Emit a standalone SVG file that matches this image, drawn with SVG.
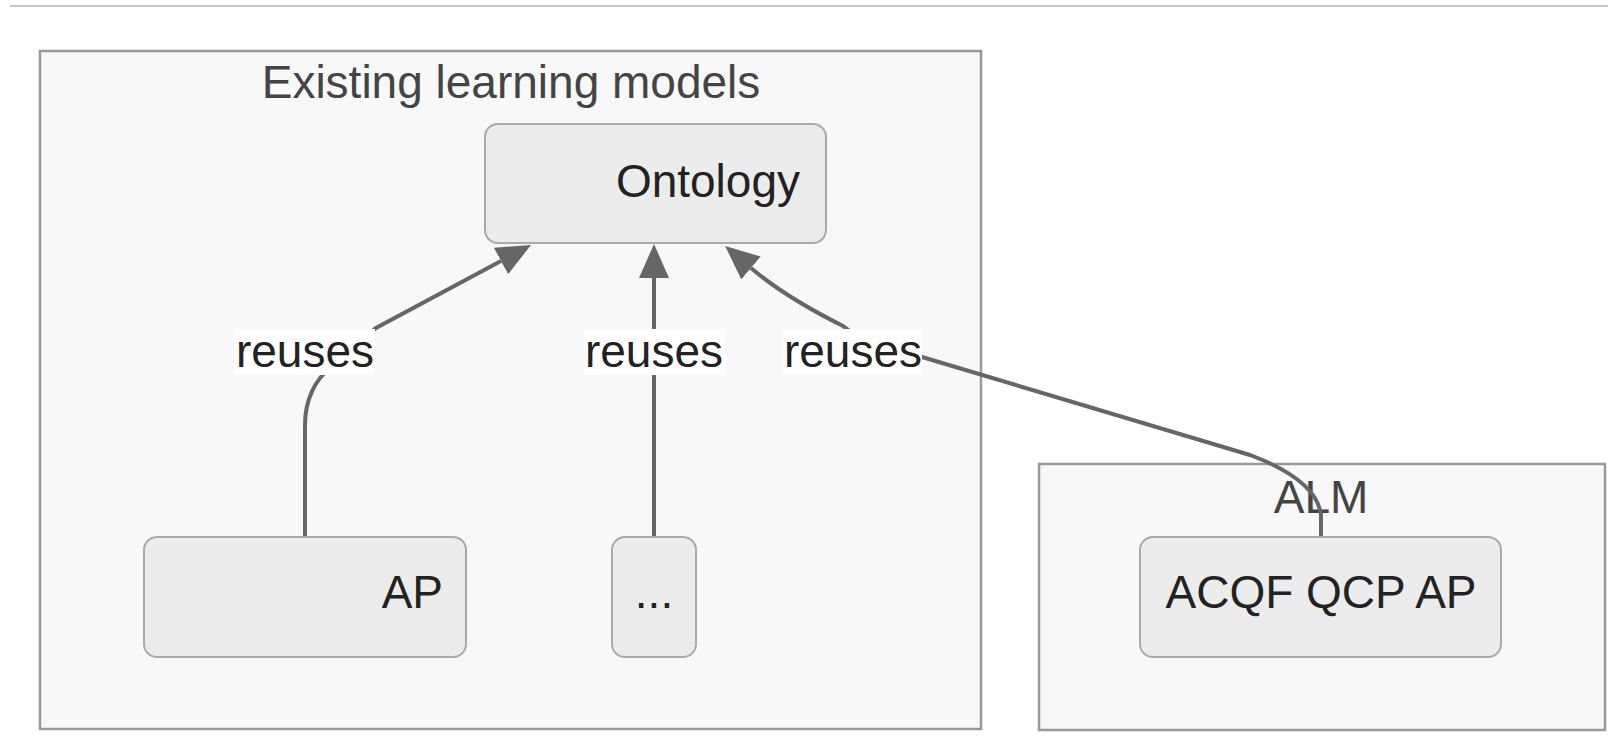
<svg xmlns="http://www.w3.org/2000/svg" width="1608" height="755" viewBox="0 0 1608 755">
<style>
  .cluster { fill: #f8f8f8; stroke: #999; stroke-width: 2.5; }
  .node rect { fill: #ececec; stroke: #aaa; stroke-width: 2; }
  .title { font-family: "Liberation Sans", Arial, sans-serif; font-size: 46px; fill: #444; text-anchor: middle; }
  .ntext { font-family: "Liberation Sans", Arial, sans-serif; font-size: 46px; fill: #222; }
  .edge { fill: none; stroke: #666; stroke-width: 4; }
  .lbg { fill: #ffffff; }
  .ltext { font-family: "Liberation Sans", Arial, sans-serif; font-size: 46px; fill: #222; text-anchor: middle; }
</style>
<defs>
  <marker id="arrow" viewBox="0 0 34 30" refX="0" refY="15" markerWidth="34" markerHeight="30" markerUnits="userSpaceOnUse" orient="auto">
    <path d="M0,0 L34,15 L0,30 z" fill="#666"/>
  </marker>
</defs>
<rect x="0" y="0" width="1608" height="755" fill="#ffffff"/>
<line x1="10" y1="6" x2="1608" y2="6" stroke="#c8c8c8" stroke-width="2"/>

<g id="cluster-existing">
  <rect class="cluster" x="40" y="51" width="941" height="678"/>
  <text class="title" x="511" y="98">Existing learning models</text>
</g>
<g id="cluster-alm">
  <rect class="cluster" x="1039" y="464" width="566" height="266"/>
  <text class="title" x="1321" y="513">ALM</text>
</g>

<g id="connectors">
  <path class="edge" d="M305,537 L305,425 C305,400 315,380 330,368 L376,328 L501,261" marker-end="url(#arrow)"/>
  <path class="edge" d="M654,537 L654,278" marker-end="url(#arrow)"/>
  <path class="edge" d="M1321,537 L1321,515 C1318,490 1290,470 1250,455 L922,357 C880,345 860,340 843,326 Q785,297 751,268" marker-end="url(#arrow)"/>
</g>

<g id="node-ontology" class="node">
  <rect x="485" y="124" width="341" height="119" rx="13"/>
  <text class="ntext" x="800" y="197" text-anchor="end">Ontology</text>
</g>
<g id="node-ap" class="node">
  <rect x="144" y="537" width="322" height="120" rx="13"/>
  <text class="ntext" x="443" y="608" text-anchor="end">AP</text>
</g>
<g id="node-etc" class="node">
  <rect x="612" y="537" width="84" height="120" rx="13"/>
  <text class="ntext" x="654" y="608" text-anchor="middle">...</text>
</g>
<g id="node-acqf" class="node">
  <rect x="1140" y="537" width="361" height="120" rx="13"/>
  <text class="ntext" x="1321" y="608" text-anchor="middle">ACQF QCP AP</text>
</g>

<g id="edge-labels">
  <rect class="lbg" x="234" y="329" width="141" height="46"/>
  <text class="ltext" x="305" y="367">reuses</text>
  <rect class="lbg" x="584" y="329" width="141" height="46"/>
  <text class="ltext" x="654" y="367">reuses</text>
  <rect class="lbg" x="783" y="329" width="139" height="46"/>
  <text class="ltext" x="853" y="367">reuses</text>
</g>
</svg>
